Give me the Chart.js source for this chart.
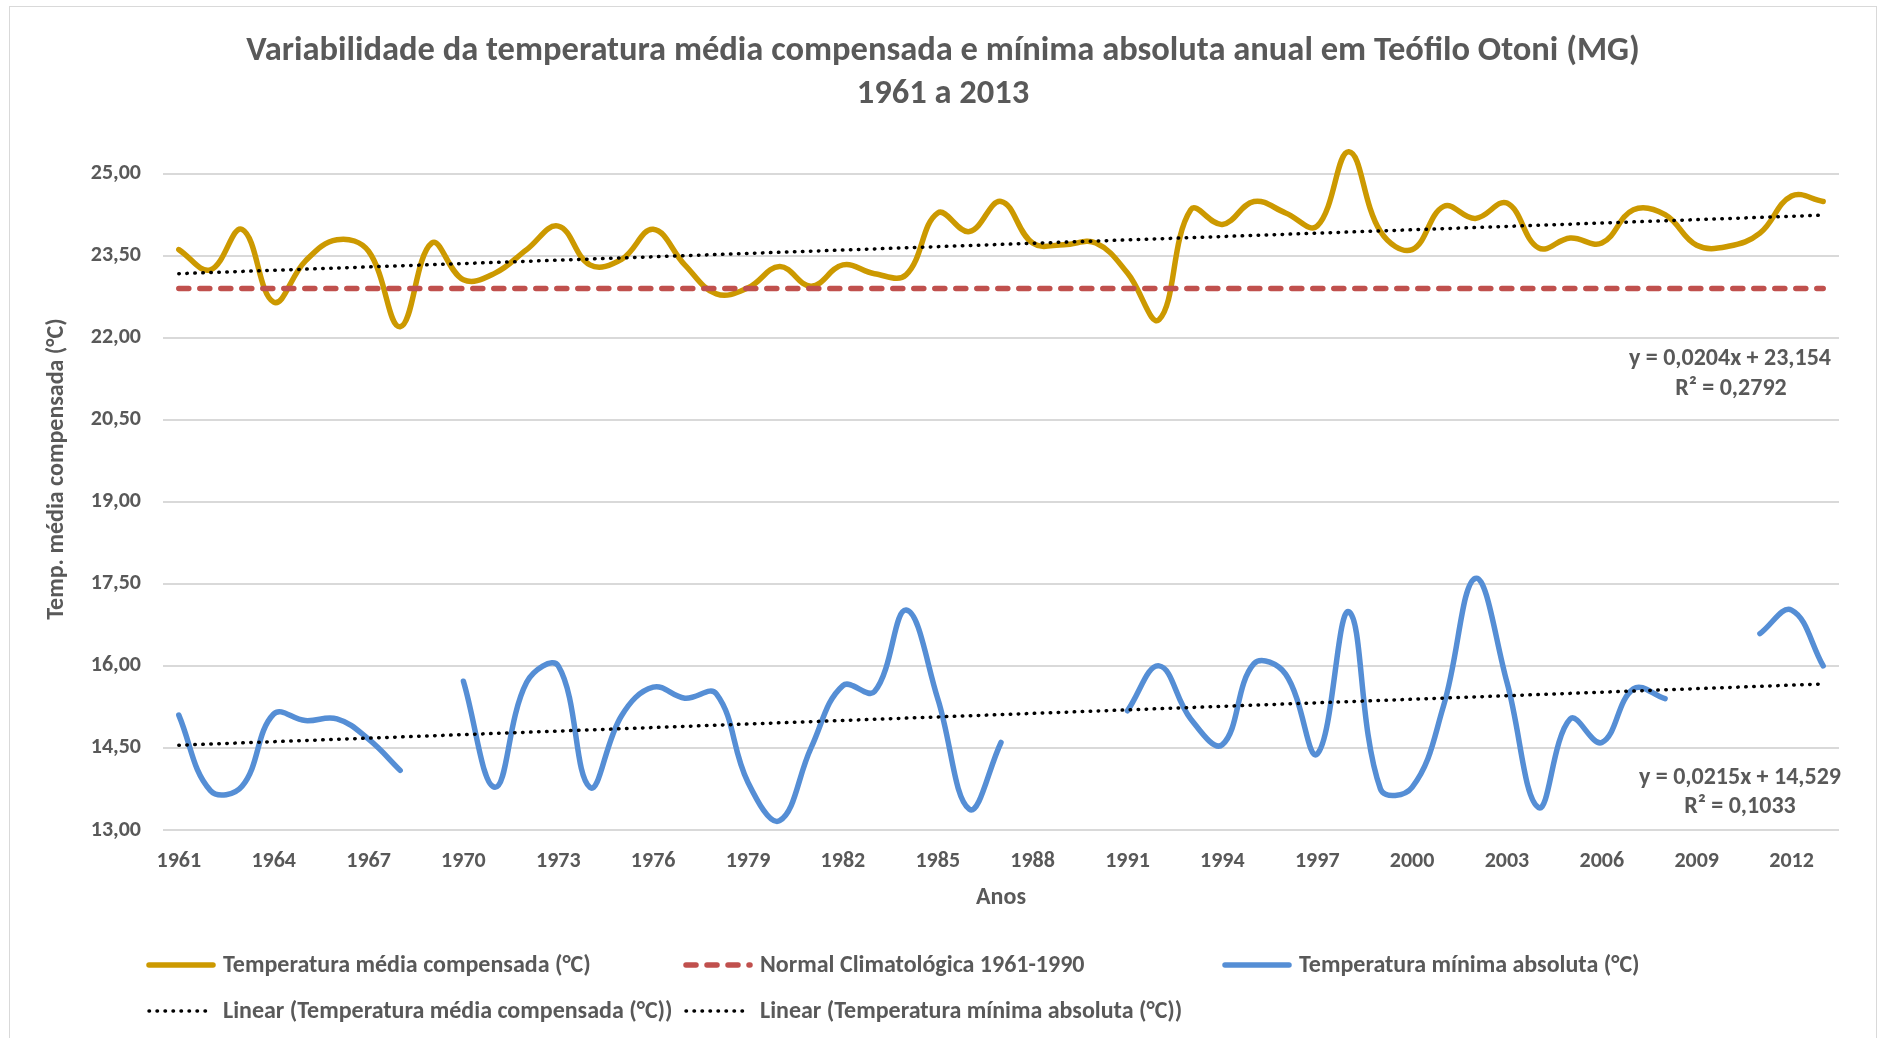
<!DOCTYPE html>
<html>
<head>
<meta charset="utf-8">
<script src="https://cdn.jsdelivr.net/npm/chart.js@4"></script>
<style>
  body { margin: 0; background: #fff; }
  #wrap { position: absolute; left: 9px; top: 6px; width: 1866px; height: 1040px; border: 1px solid #d9d9d9; }
</style>
</head>
<body>
<div id="wrap"><canvas id="chart"></canvas></div>
<script>
// Data
const years = ['1961','1962','1963','1964','1965','1966','1967','1968','1969','1970',
  '1971','1972','1973','1974','1975','1976','1977','1978','1979','1980',
  '1981','1982','1983','1984','1985','1986','1987','1988','1989','1990',
  '1991','1992','1993','1994','1995','1996','1997','1998','1999','2000',
  '2001','2002','2003','2004','2005','2006','2007','2008','2009','2010',
  '2011','2012','2013'];

const tempMedia = [23.61, 23.24, 23.98, 22.65, 23.40, 23.79, 23.58, 22.20, 23.73, 23.06,
  23.18, 23.61, 24.04, 23.33, 23.43, 23.98, 23.33, 22.80, 22.91, 23.30,
  22.94, 23.33, 23.17, 23.15, 24.28, 23.94, 24.49, 23.73, 23.70, 23.73,
  23.18, 22.33, 24.34, 24.07, 24.49, 24.28, 24.04, 25.40, 23.94, 23.61,
  24.40, 24.18, 24.46, 23.64, 23.82, 23.73, 24.34, 24.25, 23.69, 23.67,
  23.91, 24.59, 24.49];

const tempMinima = [15.10, 13.72, 13.80, 15.12, 15.00, 15.03, 14.66, 14.09, null, 15.72,
  13.78, 15.70, 16.00, 13.78, 15.09, 15.61, 15.41, 15.49, 13.87, 13.17,
  14.51, 15.64, 15.53, 17.02, 15.40, 13.38, 14.60, null, null, null,
  15.18, 16.00, 15.03, 14.56, 16.04, 15.85, 14.39, 16.99, 13.75, 13.78,
  15.28, 17.60, 15.70, 13.41, 15.03, 14.60, 15.58, 15.40, null, null,
  16.59, 17.02, 16.00];

const normalClimatologica = 22.90;

// trend line ends (first and last year)
const trendMediaEnds = [23.17, 24.24];
const trendMinimaEnds = [14.55, 15.67];

const yTicks = [13, 14.5, 16, 17.5, 19, 20.5, 22, 23.5, 25];

const eqMedia = ['y = 0,0204x + 23,154', 'R² = 0,2792'];
const eqMinima = ['y = 0,0215x + 14,529', 'R² = 0,1033'];

const textColor = '#595959';
const fontMain = "Carlito, 'Liberation Sans', Arial, sans-serif";

function endsToSeries(ends) {
  return years.map((y, i) => i === 0 ? ends[0] : (i === years.length - 1 ? ends[1] : null));
}

// legend drawn in a grid like the original
const gridLegend = {
  id: 'gridLegend',
  afterDraw(chart) {
    const ctx = chart.ctx;
    const cols = [136, 673, 1212];
    const rows = [958, 1004];
    ctx.save();
    ctx.font = 'bold 24px ' + fontMain;
    ctx.fillStyle = textColor;
    ctx.textBaseline = 'middle';
    chart.data.datasets.forEach((ds, i) => {
      const x = cols[i % 3], y = rows[Math.floor(i / 3)];
      ctx.beginPath();
      ctx.strokeStyle = ds.borderColor;
      ctx.lineWidth = ds.borderWidth;
      ctx.lineCap = ds.borderCapStyle || 'butt';
      ctx.setLineDash(ds.borderDash || []);
      ctx.moveTo(x + 3, y);
      ctx.lineTo(x + 67, y);
      ctx.stroke();
      ctx.setLineDash([]);
      ctx.fillText(ds.label, x + 77, y + 1);
    });
    ctx.restore();
  }
};

// axis title + trend equations
const extraText = {
  id: 'extraText',
  afterDraw(chart) {
    const ctx = chart.ctx;
    const area = chart.chartArea;
    ctx.save();
    ctx.fillStyle = textColor;
    ctx.font = 'bold 24px ' + fontMain;
    ctx.textBaseline = 'middle';
    ctx.textAlign = 'center';
    ctx.save();
    ctx.translate(47, 462);
    ctx.rotate(-Math.PI / 2);
    ctx.fillText('Temp. média compensada (°C)', 0, 0);
    ctx.restore();

    ctx.textAlign = 'right';
    ctx.fillText(eqMedia[0], area.right - 8, 352);
    ctx.fillText(eqMinima[0], area.right + 2, 771);
    ctx.textAlign = 'center';
    ctx.fillText(eqMedia[1], area.right - 108, 382);
    ctx.fillText(eqMinima[1], area.right - 99, 800);
    ctx.restore();
  }
};

new Chart(document.getElementById('chart'), {
  type: 'line',
  data: {
    labels: years,
    datasets: [
      {
        label: 'Temperatura média compensada (°C)',
        data: tempMedia,
        borderColor: '#CC9900',
        borderWidth: 5.5,
        borderCapStyle: 'round',
        tension: 0.4,
        pointRadius: 0,
        clip: false,
        order: 3
      },
      {
        label: 'Normal Climatológica 1961-1990',
        data: years.map(() => normalClimatologica),
        borderColor: '#C0504D',
        borderWidth: 5.5,
        borderDash: [10, 11],
        borderCapStyle: 'round',
        pointRadius: 0,
        order: 2
      },
      {
        label: 'Temperatura mínima absoluta (°C)',
        data: tempMinima,
        borderColor: '#558ED5',
        borderWidth: 5.5,
        borderCapStyle: 'round',
        tension: 0.4,
        pointRadius: 0,
        spanGaps: false,
        order: 4
      },
      {
        label: 'Linear (Temperatura média compensada (°C))',
        data: endsToSeries(trendMediaEnds),
        borderColor: '#000000',
        borderWidth: 3.5,
        borderDash: [0.5, 7.5],
        borderCapStyle: 'round',
        spanGaps: true,
        tension: 0,
        pointRadius: 0,
        order: 0
      },
      {
        label: 'Linear (Temperatura mínima absoluta (°C))',
        data: endsToSeries(trendMinimaEnds),
        borderColor: '#000000',
        borderWidth: 3.5,
        borderDash: [0.5, 7.5],
        borderCapStyle: 'round',
        spanGaps: true,
        tension: 0,
        pointRadius: 0,
        order: 1
      }
    ]
  },
  options: {
    responsive: true,
    maintainAspectRatio: false,
    animation: false,
    layout: { padding: { left: 0, right: 0, top: 0, bottom: 135 } },
    plugins: {
      legend: { display: false },
      tooltip: { enabled: false },
      title: {
        display: true,
        text: ['Variabilidade da temperatura média compensada e mínima absoluta anual em Teófilo Otoni (MG)', '1961 a 2013'],
        color: textColor,
        font: { family: fontMain, size: 34.5, weight: 'bold', lineHeight: 1.24 },
        padding: { top: 23, bottom: 58 }
      }
    },
    scales: {
      x: {
        offset: true,
        grid: { display: false, drawTicks: false },
        border: { display: false },
        afterFit(scale) { scale.height = 82; },
        ticks: {
          autoSkip: false,
          maxRotation: 0,
          padding: 18,
          color: textColor,
          font: { family: fontMain, size: 22, weight: 'bold' },
          callback(value, index) { return index % 3 === 0 ? years[index] : ''; }
        },
        title: {
          display: true,
          text: 'Anos',
          color: textColor,
          font: { family: fontMain, size: 24, weight: 'bold' },
          padding: { top: 0, bottom: 0 }
        }
      },
      y: {
        min: 13,
        max: 25,
        afterFit(scale) { scale.width = 153; },
        afterBuildTicks(scale) { scale.ticks = yTicks.map(v => ({ value: v })); },
        grid: { color: '#D9D9D9', lineWidth: 2, drawTicks: false },
        border: { display: false },
        ticks: {
          padding: 22,
          color: textColor,
          font: { family: fontMain, size: 22, weight: 'bold' },
          callback(value) { return value.toFixed(2).replace('.', ','); }
        }
      },
      // empty right margin so the title stays centred on the whole frame
      yRight: {
        position: 'right',
        min: 13,
        max: 25,
        afterFit(scale) { scale.width = 37; },
        grid: { display: false, drawTicks: false },
        border: { display: false },
        ticks: { display: false }
      }
    }
  },
  plugins: [gridLegend, extraText]
});
</script>
</body>
</html>
